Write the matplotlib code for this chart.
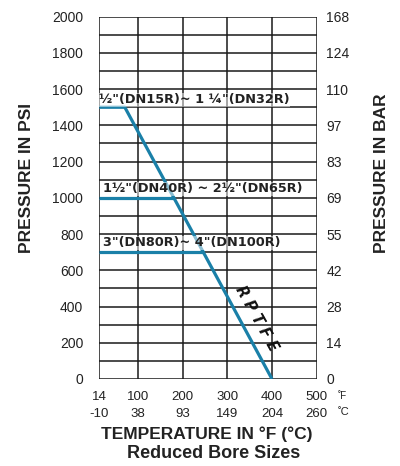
import matplotlib
matplotlib.use("Agg")
import matplotlib.pyplot as plt

plt.rcParams['font.family'] = ['Liberation Sans', 'DejaVu Sans']

# Data
psi_ticks = [0, 200, 400, 600, 800, 1000, 1200, 1400, 1600, 1800, 2000]
bar_labels = ["0", "14", "28", "42", "55", "69", "83", "97", "110", "124", "168"]
f_ticks = [14, 100, 200, 300, 400, 500]
c_labels = ["-10", "38", "93", "149", "204", "260"]

ptfe_temp = [14, 71, 400]
ptfe_psi = [1500, 1500, 0]
size2_temp = [14, 182]
size2_psi = [1000, 1000]
size3_temp = [14, 248]
size3_psi = [700, 700]

labels = ['½"(DN15R)~ 1 ¼"(DN32R)', '1½"(DN40R) ~ 2½"(DN65R)', '3"(DN80R)~ 4"(DN100R)']
label_pos = [(14, 1541), (22, 1050), (22, 751)]

teal = '#1a80a8'
dark = '#1a1a1a'
txt = '#222222'

fig = plt.figure(figsize=(4.0, 4.66), dpi=100)
ax = fig.add_axes([0.2483, 0.1867, 0.5435, 0.7775])
ax.set_xlim(14, 500)
ax.set_ylim(0, 2000)

# grid
for y in range(0, 2001, 100):
    ax.axhline(y, color=dark, lw=1.1, zorder=1)
for x in f_ticks:
    ax.axvline(x, color=dark, lw=1.1, zorder=1)
for s in ax.spines.values():
    s.set_visible(False)

ax.plot(ptfe_temp, ptfe_psi, color=teal, lw=2.3, zorder=3, solid_capstyle='butt')
ax.plot(size2_temp, size2_psi, color=teal, lw=2.3, zorder=3, solid_capstyle='butt')
ax.plot(size3_temp, size3_psi, color=teal, lw=2.3, zorder=3, solid_capstyle='butt')

for t, (x, y) in zip(labels, label_pos):
    ax.text(x, y, t, fontsize=9.3, fontweight='bold', color=txt, ha='left', va='center',
            family=['DejaVu Sans'], zorder=4,
            bbox=dict(facecolor='white', edgecolor='none', alpha=0.5, pad=0.3))

ax.text(366, 334, 'R P T F E', rotation=-61, fontsize=10.5, fontweight='bold', style='italic',
        color='#111111', ha='center', va='center', zorder=4, rotation_mode='anchor',
        family=['DejaVu Sans'])

# left ticks
ax.set_yticks(psi_ticks)
ax.set_yticklabels([str(v) for v in psi_ticks])
ax.tick_params(axis='y', length=0, pad=11.5, labelsize=10, labelcolor=txt)
ax.set_xticks(f_ticks)
ax.set_xticklabels([str(v) for v in f_ticks])
ax.tick_params(axis='x', length=0, pad=8.5, labelsize=9.5, labelcolor=txt)

# celsius row
for x, c in zip(f_ticks, c_labels):
    ax.annotate(c, xy=(x, 0), xycoords='data', xytext=(0, -21), textcoords='offset points',
                ha='center', va='top', fontsize=9.5, color=txt)
ax.annotate('˚F', xy=(500, 0), xytext=(15, -9), textcoords='offset points',
            ha='left', va='top', fontsize=7, color=txt)
ax.annotate('˚C', xy=(500, 0), xytext=(15, -20), textcoords='offset points',
            ha='left', va='top', fontsize=8, color=txt)

# right axis
ax2 = ax.twinx()
ax2.set_ylim(0, 2000)
ax2.set_yticks(psi_ticks)
ax2.set_yticklabels(bar_labels)
ax2.tick_params(axis='y', length=0, pad=7, labelsize=10, labelcolor=txt)
for s in ax2.spines.values():
    s.set_visible(False)

fig.text(27/400, 1 - 178/466, 'PRESSURE IN PSI', rotation=90, ha='center', va='center',
         fontsize=12.5, fontweight='bold', color=txt)
fig.text(382/400, 1 - 173/466, 'PRESSURE IN BAR', rotation=90, ha='center', va='center',
         fontsize=12.5, fontweight='bold', color=txt)
fig.text(207/400, 1 - 434/466, 'TEMPERATURE IN °F (°C)', ha='center', va='center',
         fontsize=12.5, fontweight='bold', color=txt)
fig.text(214/400, 1 - 454/466, 'Reduced Bore Sizes', ha='center', va='center',
         fontsize=13, fontweight='bold', color=txt)

fig.savefig('out.png', dpi=100)
